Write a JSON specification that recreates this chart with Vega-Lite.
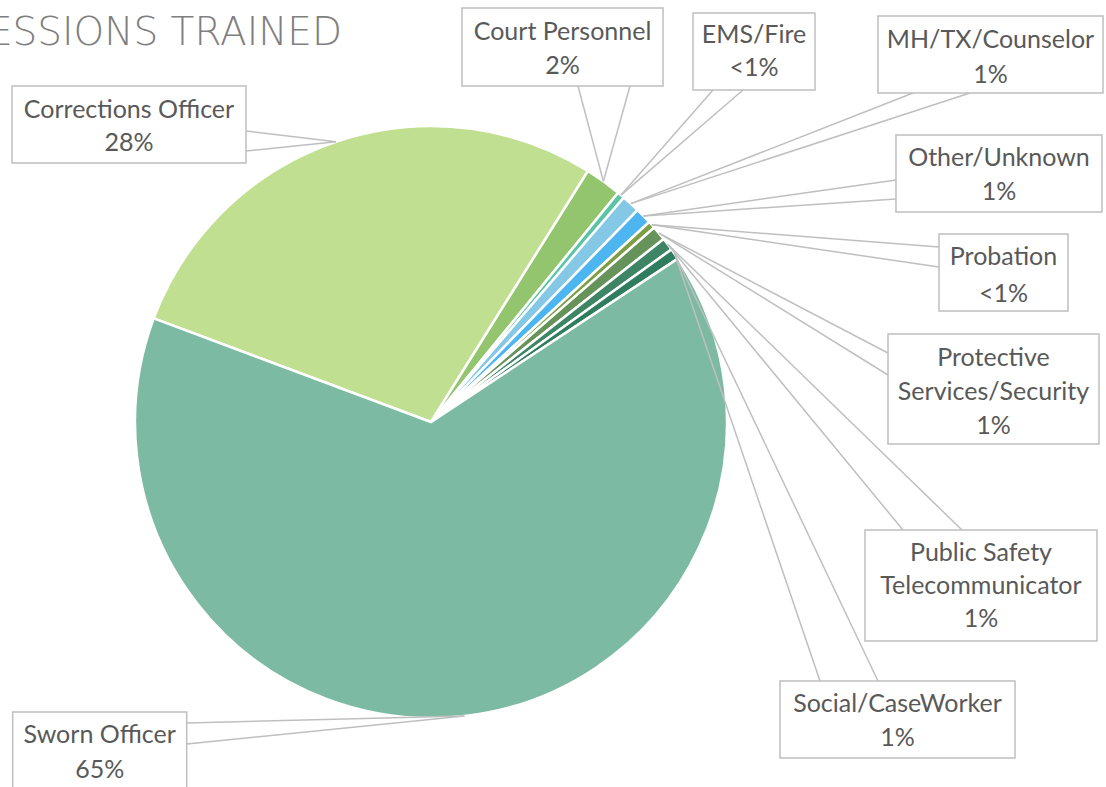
{
  "$schema": "https://vega.github.io/schema/vega-lite/v6.json",
  "width": 1106,
  "height": 787,
  "autosize": {"type": "none"},
  "padding": 0,
  "background": "white",
  "config": {"view": {"stroke": null}, "axis": {"disable": true}, "legend": {"disable": true}},
  "datasets": {
    "shares": [
      {"category": "Corrections Officer", "share": 28.2},
      {"category": "Court Personnel", "share": 2.0},
      {"category": "EMS/Fire", "share": 0.4},
      {"category": "MH/TX/Counselor", "share": 1.0},
      {"category": "Other/Unknown", "share": 0.9},
      {"category": "Probation", "share": 0.4},
      {"category": "Protective Services/Security", "share": 0.8},
      {"category": "Public Safety Telecommunicator", "share": 0.7},
      {"category": "Social/CaseWorker", "share": 0.6},
      {"category": "Sworn Officer", "share": 65.0}
    ],
    "one": [{}]
  },
  "data": {"name": "one"},
  "layer": [
    {
      "data": {"name": "shares"},
      "mark": {"type": "arc", "outerRadius": 296, "stroke": "white", "strokeWidth": 2.5},
      "encoding": {
        "x": {"datum": 0, "type": "quantitative", "scale": {"domain": [-145.608, 228.041], "nice": false, "zero": false}},
        "y": {"datum": 0, "type": "quantitative", "scale": {"domain": [-123.311, 142.568], "nice": false, "zero": false}},
        "theta": {"field": "share", "type": "quantitative", "stack": true, "scale": {"range": [-1.213, 5.0702]}},
        "color": {
          "field": "category", "type": "nominal", "legend": null,
          "scale": {
            "domain": ["Corrections Officer", "Court Personnel", "EMS/Fire", "MH/TX/Counselor", "Other/Unknown", "Probation", "Protective Services/Security", "Public Safety Telecommunicator", "Social/CaseWorker", "Sworn Officer"],
            "range": ["#C1DF90", "#93C46E", "#5CC4A6", "#84C8E6", "#4DB5F0", "#7D9E45", "#66935A", "#3E8566", "#2F7D5E", "#7CBAA4"]
          }
        }
      }
    },
    {"mark": {"type": "rule", "stroke": "#BFBFBF", "strokeWidth": 1.5}, "encoding": {"x": {"datum": -62.5}, "y": {"datum": 98.31}, "x2": {"datum": -32.12}, "y2": {"datum": 94.7}}},
    {"mark": {"type": "rule", "stroke": "#BFBFBF", "strokeWidth": 1.5}, "encoding": {"x": {"datum": -62.5}, "y": {"datum": 91.55}, "x2": {"datum": -32.12}, "y2": {"datum": 94.7}}},
    {"mark": {"type": "rule", "stroke": "#BFBFBF", "strokeWidth": 1.5}, "encoding": {"x": {"datum": 49.66}, "y": {"datum": 113.51}, "x2": {"datum": 58.24}, "y2": {"datum": 81.29}}},
    {"mark": {"type": "rule", "stroke": "#BFBFBF", "strokeWidth": 1.5}, "encoding": {"x": {"datum": 67.23}, "y": {"datum": 113.51}, "x2": {"datum": 58.24}, "y2": {"datum": 81.29}}},
    {"mark": {"type": "rule", "stroke": "#BFBFBF", "strokeWidth": 1.5}, "encoding": {"x": {"datum": 95.27}, "y": {"datum": 112.16}, "x2": {"datum": 64.2}, "y2": {"datum": 76.67}}},
    {"mark": {"type": "rule", "stroke": "#BFBFBF", "strokeWidth": 1.5}, "encoding": {"x": {"datum": 105.41}, "y": {"datum": 112.16}, "x2": {"datum": 64.2}, "y2": {"datum": 76.67}}},
    {"mark": {"type": "rule", "stroke": "#BFBFBF", "strokeWidth": 1.5}, "encoding": {"x": {"datum": 162.84}, "y": {"datum": 111.15}, "x2": {"datum": 67.51}, "y2": {"datum": 73.77}}},
    {"mark": {"type": "rule", "stroke": "#BFBFBF", "strokeWidth": 1.5}, "encoding": {"x": {"datum": 182.09}, "y": {"datum": 111.15}, "x2": {"datum": 67.51}, "y2": {"datum": 73.77}}},
    {"mark": {"type": "rule", "stroke": "#BFBFBF", "strokeWidth": 1.5}, "encoding": {"x": {"datum": 157.09}, "y": {"datum": 81.76}, "x2": {"datum": 71.8}, "y2": {"datum": 69.61}}},
    {"mark": {"type": "rule", "stroke": "#BFBFBF", "strokeWidth": 1.5}, "encoding": {"x": {"datum": 157.09}, "y": {"datum": 75.34}, "x2": {"datum": 71.8}, "y2": {"datum": 69.61}}},
    {"mark": {"type": "rule", "stroke": "#BFBFBF", "strokeWidth": 1.5}, "encoding": {"x": {"datum": 171.62}, "y": {"datum": 59.12}, "x2": {"datum": 74.58}, "y2": {"datum": 66.61}}},
    {"mark": {"type": "rule", "stroke": "#BFBFBF", "strokeWidth": 1.5}, "encoding": {"x": {"datum": 171.62}, "y": {"datum": 52.36}, "x2": {"datum": 74.58}, "y2": {"datum": 66.61}}},
    {"mark": {"type": "rule", "stroke": "#BFBFBF", "strokeWidth": 1.5}, "encoding": {"x": {"datum": 154.39}, "y": {"datum": 23.31}, "x2": {"datum": 77.01}, "y2": {"datum": 63.79}}},
    {"mark": {"type": "rule", "stroke": "#BFBFBF", "strokeWidth": 1.5}, "encoding": {"x": {"datum": 154.39}, "y": {"datum": 15.88}, "x2": {"datum": 77.01}, "y2": {"datum": 63.79}}},
    {"mark": {"type": "rule", "stroke": "#BFBFBF", "strokeWidth": 1.5}, "encoding": {"x": {"datum": 159.46}, "y": {"datum": -36.49}, "x2": {"datum": 79.95}, "y2": {"datum": 60.07}}},
    {"mark": {"type": "rule", "stroke": "#BFBFBF", "strokeWidth": 1.5}, "encoding": {"x": {"datum": 179.39}, "y": {"datum": -36.49}, "x2": {"datum": 79.95}, "y2": {"datum": 60.07}}},
    {"mark": {"type": "rule", "stroke": "#BFBFBF", "strokeWidth": 1.5}, "encoding": {"x": {"datum": 131.42}, "y": {"datum": -87.5}, "x2": {"datum": 82.33}, "y2": {"datum": 56.76}}},
    {"mark": {"type": "rule", "stroke": "#BFBFBF", "strokeWidth": 1.5}, "encoding": {"x": {"datum": 151.01}, "y": {"datum": -87.5}, "x2": {"datum": 82.33}, "y2": {"datum": 56.76}}},
    {"mark": {"type": "rule", "stroke": "#BFBFBF", "strokeWidth": 1.5}, "encoding": {"x": {"datum": -82.53}, "y": {"datum": -101.69}, "x2": {"datum": 11.32}, "y2": {"datum": -99.36}}},
    {"mark": {"type": "rule", "stroke": "#BFBFBF", "strokeWidth": 1.5}, "encoding": {"x": {"datum": -82.53}, "y": {"datum": -108.78}, "x2": {"datum": 11.32}, "y2": {"datum": -99.36}}},
    {"mark": {"type": "rect", "fill": "white", "stroke": "#BFBFBF", "strokeWidth": 1.5}, "encoding": {"x": {"datum": -141.55}, "x2": {"datum": -62.5}, "y": {"datum": 113.51}, "y2": {"datum": 87.5}}},
    {"mark": {"type": "rect", "fill": "white", "stroke": "#BFBFBF", "strokeWidth": 1.5}, "encoding": {"x": {"datum": 10.47}, "x2": {"datum": 78.38}, "y": {"datum": 139.86}, "y2": {"datum": 113.51}}},
    {"mark": {"type": "rect", "fill": "white", "stroke": "#BFBFBF", "strokeWidth": 1.5}, "encoding": {"x": {"datum": 88.51}, "x2": {"datum": 129.73}, "y": {"datum": 138.18}, "y2": {"datum": 112.16}}},
    {"mark": {"type": "rect", "fill": "white", "stroke": "#BFBFBF", "strokeWidth": 1.5}, "encoding": {"x": {"datum": 151.01}, "x2": {"datum": 227.03}, "y": {"datum": 137.16}, "y2": {"datum": 111.15}}},
    {"mark": {"type": "rect", "fill": "white", "stroke": "#BFBFBF", "strokeWidth": 1.5}, "encoding": {"x": {"datum": 157.09}, "x2": {"datum": 226.69}, "y": {"datum": 96.96}, "y2": {"datum": 70.95}}},
    {"mark": {"type": "rect", "fill": "white", "stroke": "#BFBFBF", "strokeWidth": 1.5}, "encoding": {"x": {"datum": 171.62}, "x2": {"datum": 215.2}, "y": {"datum": 63.51}, "y2": {"datum": 37.5}}},
    {"mark": {"type": "rect", "fill": "white", "stroke": "#BFBFBF", "strokeWidth": 1.5}, "encoding": {"x": {"datum": 154.39}, "x2": {"datum": 225.68}, "y": {"datum": 29.73}, "y2": {"datum": -7.43}}},
    {"mark": {"type": "rect", "fill": "white", "stroke": "#BFBFBF", "strokeWidth": 1.5}, "encoding": {"x": {"datum": 146.62}, "x2": {"datum": 225.0}, "y": {"datum": -36.49}, "y2": {"datum": -73.99}}},
    {"mark": {"type": "rect", "fill": "white", "stroke": "#BFBFBF", "strokeWidth": 1.5}, "encoding": {"x": {"datum": 117.91}, "x2": {"datum": 197.3}, "y": {"datum": -87.5}, "y2": {"datum": -113.51}}},
    {"mark": {"type": "rect", "fill": "white", "stroke": "#BFBFBF", "strokeWidth": 1.5}, "encoding": {"x": {"datum": -141.32}, "x2": {"datum": -82.53}, "y": {"datum": -97.97}, "y2": {"datum": -127.7}}},
    {"mark": {"type": "text", "font": "Lato", "fontSize": 25, "fill": "#595959", "align": "center", "baseline": "middle", "lineHeight": 33}, "encoding": {"x": {"datum": -102.03}, "y": {"datum": 105.41}, "text": {"value": ["Corrections Officer", "28%"]}}},
    {"mark": {"type": "text", "font": "Lato", "fontSize": 25, "fill": "#595959", "align": "center", "baseline": "middle", "lineHeight": 34}, "encoding": {"x": {"datum": 44.43}, "y": {"datum": 131.76}, "text": {"value": ["Court Personnel", "2%"]}}},
    {"mark": {"type": "text", "font": "Lato", "fontSize": 25, "fill": "#595959", "align": "center", "baseline": "middle", "lineHeight": 33}, "encoding": {"x": {"datum": 109.12}, "y": {"datum": 130.74}, "text": {"value": ["EMS/Fire", "<1%"]}}},
    {"mark": {"type": "text", "font": "Lato", "fontSize": 25, "fill": "#595959", "align": "center", "baseline": "middle", "lineHeight": 35}, "encoding": {"x": {"datum": 189.02}, "y": {"datum": 129.05}, "text": {"value": ["MH/TX/Counselor", "1%"]}}},
    {"mark": {"type": "text", "font": "Lato", "fontSize": 25, "fill": "#595959", "align": "center", "baseline": "middle", "lineHeight": 34}, "encoding": {"x": {"datum": 191.89}, "y": {"datum": 89.09}, "text": {"value": ["Other/Unknown", "1%"]}}},
    {"mark": {"type": "text", "font": "Lato", "fontSize": 25, "fill": "#595959", "align": "center", "baseline": "middle", "lineHeight": 37}, "encoding": {"x": {"datum": 193.41}, "y": {"datum": 55.64}, "text": {"value": ["Probation", "<1%"]}}},
    {"mark": {"type": "text", "font": "Lato", "fontSize": 25, "fill": "#595959", "align": "center", "baseline": "middle", "lineHeight": 34}, "encoding": {"x": {"datum": 190.03}, "y": {"datum": 21.52}, "text": {"value": ["Protective", "Services/Security", "1%"]}}},
    {"mark": {"type": "text", "font": "Lato", "fontSize": 25, "fill": "#595959", "align": "center", "baseline": "middle", "lineHeight": 33}, "encoding": {"x": {"datum": 185.81}, "y": {"datum": -44.36}, "text": {"value": ["Public Safety", "Telecommunicator", "1%"]}}},
    {"mark": {"type": "text", "font": "Lato", "fontSize": 25, "fill": "#595959", "align": "center", "baseline": "middle", "lineHeight": 34}, "encoding": {"x": {"datum": 157.6}, "y": {"datum": -95.27}, "text": {"value": ["Social/CaseWorker", "1%"]}}},
    {"mark": {"type": "text", "font": "Lato", "fontSize": 25, "fill": "#595959", "align": "center", "baseline": "middle", "lineHeight": 35}, "encoding": {"x": {"datum": -111.93}, "y": {"datum": -105.74}, "text": {"value": ["Sworn Officer", "65%"]}}},
    {"mark": {"type": "text", "font": "DejaVu Sans", "fontWeight": 200, "fontSize": 39, "fill": "#7F7F7F", "align": "right", "baseline": "alphabetic"}, "encoding": {"x": {"datum": -30.07}, "y": {"datum": 127.36}, "text": {"value": "PROFESSIONS TRAINED"}}}
  ]
}
